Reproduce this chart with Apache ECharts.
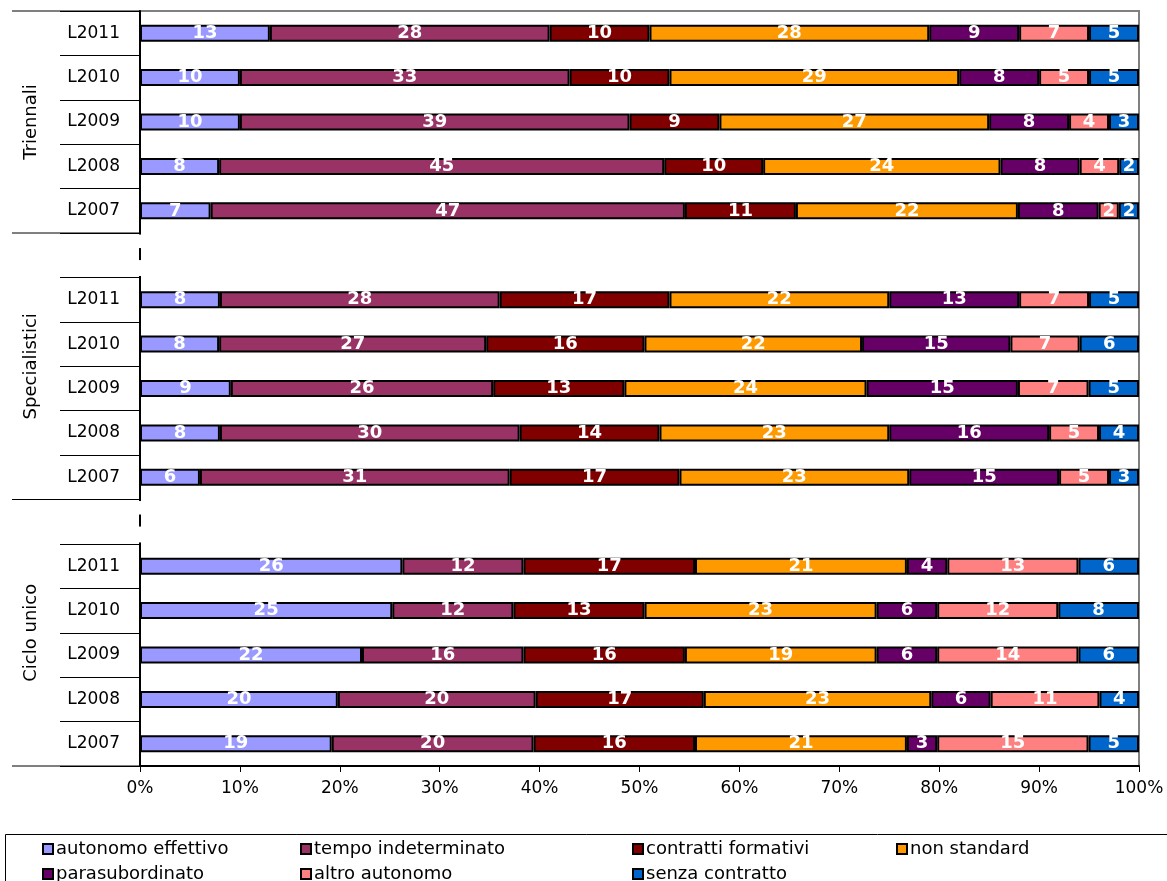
<!DOCTYPE html>
<html>
<head>
<meta charset="utf-8">
<title>Condizione occupazionale per tipo di corso e coorte</title>
<script src="https://cdn.jsdelivr.net/npm/echarts@6/dist/echarts.min.js"></script>
<style>
  html, body { margin: 0; padding: 0; background: #fff; }
  #chart { width: 1167px; height: 881px; }
</style>
</head>
<body>
<div id="chart"></div>
<script>
// Groups of degree courses, each listing its cohorts top to bottom
const groups = ['Triennali', 'Specialistici', 'Ciclo unico'];
const cohorts = ['L2011', 'L2010', 'L2009', 'L2008', 'L2007'];

const seriesNames = ['autonomo effettivo', 'tempo indeterminato', 'contratti formativi',
  'non standard', 'parasubordinato', 'altro autonomo', 'senza contratto'];
const seriesColors = ['#9999FF', '#993366', '#800000', '#FF9900', '#660066', '#FF8080', '#0066CC'];

// Percentages per cohort: Triennali L2011..L2007, Specialistici L2011..L2007, Ciclo unico L2011..L2007
const autonomoEffettivo  = [13, 10, 10, 8, 7,    8, 8, 9, 8, 6,       26, 25, 22, 20, 19];
const tempoIndeterminato = [28, 33, 39, 45, 47,  28, 27, 26, 30, 31,  12, 12, 16, 20, 20];
const contrattiFormativi = [10, 10, 9, 10, 11,   17, 16, 13, 14, 17,  17, 13, 16, 17, 16];
const nonStandard        = [28, 29, 27, 24, 22,  22, 22, 24, 23, 23,  21, 23, 19, 23, 21];
const parasubordinato    = [9, 8, 8, 8, 8,       13, 15, 15, 16, 15,  4, 6, 6, 6, 3];
const altroAutonomo      = [7, 5, 4, 4, 2,       7, 7, 7, 5, 5,       13, 12, 14, 11, 15];
const senzaContratto     = [5, 5, 3, 2, 2,       5, 6, 5, 4, 3,       6, 8, 6, 4, 5];

const xTicks = [0, 10, 20, 30, 40, 50, 60, 70, 80, 90, 100];

const seriesValues = [autonomoEffettivo, tempoIndeterminato, contrattiFormativi,
  nonStandard, parasubordinato, altroAutonomo, senzaContratto];

const FONT = 'DejaVu Sans';

// Build the row list: each group after the first starts with an empty spacer row
const rows = [];          // {label, src} ; src = index into the value arrays, or -1 for spacer
const groupRanges = [];   // [firstRow, lastRow] for every group
groups.forEach((g, gi) => {
  const first = rows.length;
  if (gi > 0) rows.push({ label: '', src: -1 });
  cohorts.forEach((c, ci) => rows.push({ label: c, src: gi * cohorts.length + ci }));
  groupRanges.push([first, rows.length - 1]);
});
const categories = rows.map(r => r.label);

// 100% stacking: each row is scaled to its own total, labels keep the stated value
const rowTotals = rows.map(r => r.src < 0 ? 0 :
  seriesValues.reduce((s, arr) => s + arr[r.src], 0));

const series = seriesNames.map((name, si) => ({
  name,
  type: 'bar',
  stack: 'total',
  barWidth: 17,
  itemStyle: { color: seriesColors[si], borderColor: '#000', borderWidth: 2 },
  label: {
    show: true,
    position: 'inside',
    color: '#fff',
    fontFamily: FONT,
    fontWeight: 'bold',
    fontSize: 18,
    formatter: p => p.data && p.data.raw != null ? String(p.data.raw) : ''
  },
  data: rows.map((r, ri) => r.src < 0 ? '-' : {
    value: seriesValues[si][r.src] / rowTotals[ri] * 100,
    raw: seriesValues[si][r.src]
  })
}));

// Legend: two rows, four columns, one entry per slot
const legendSlots = [
  { name: 'autonomo effettivo',  left: 42,  top: 839 },
  { name: 'tempo indeterminato', left: 300, top: 839 },
  { name: 'contratti formativi', left: 632, top: 839 },
  { name: 'non standard',        left: 896, top: 839 },
  { name: 'parasubordinato',     left: 42,  top: 864 },
  { name: 'altro autonomo',      left: 300, top: 864 },
  { name: 'senza contratto',     left: 632, top: 864 }
];
const legends = legendSlots.map(s => ({
  orient: 'horizontal',
  left: s.left,
  top: s.top,
  padding: 0,
  itemWidth: 10,
  itemHeight: 10,
  icon: 'rect',
  selectedMode: false,
  data: [s.name],
  textStyle: { fontFamily: FONT, fontSize: 18, color: '#000', lineHeight: 20, padding: [0, 0, 0, -2] }
}));

const chart = echarts.init(document.getElementById('chart'), null, { renderer: 'canvas' });

chart.setOption({
  animation: false,
  backgroundColor: '#fff',
  grid: {
    left: 140, right: 28, top: 11, bottom: 115,
    show: true, borderColor: '#808080', borderWidth: 2, backgroundColor: 'transparent'
  },
  legend: legends,
  xAxis: {
    type: 'value',
    min: 0, max: 100, interval: 10,
    axisLine: { show: true, lineStyle: { color: '#000', width: 2 } },
    axisTick: { show: true, length: 6, lineStyle: { color: '#000', width: 1 } },
    splitLine: { show: false },
    axisLabel: {
      formatter: v => xTicks.includes(v) ? v + '%' : '',
      fontFamily: FONT, fontSize: 17, color: '#000', margin: 14
    }
  },
  yAxis: {
    type: 'category',
    inverse: true,
    data: categories,
    axisLine: { show: true, lineStyle: { color: '#000', width: 2 } },
    axisTick: { show: true, length: 80, lineStyle: { color: '#000', width: 1 } },
    axisLabel: { fontFamily: FONT, fontSize: 17, color: '#000', margin: 20 }
  },
  series
});

// Group labels, group separators and the broken axis at the spacer rows
function drawGroups() {
  const yOf = i => chart.convertToPixel({ yAxisIndex: 0 }, i);
  const step = yOf(1) - yOf(0);
  const axisX = chart.convertToPixel({ xAxisIndex: 0 }, 0);
  const elements = [];
  const boundaries = new Set();
  groupRanges.forEach(([a, b], gi) => {
    const top = yOf(a) - step / 2;
    const bottom = yOf(b) + step / 2;
    boundaries.add(Math.round(top * 2) / 2);
    boundaries.add(Math.round(bottom * 2) / 2);
    elements.push({
      type: 'text',
      x: 31, y: (top + bottom) / 2,
      rotation: Math.PI / 2,
      style: {
        text: groups[gi], fill: '#000', font: '18px "' + FONT + '"',
        align: 'center', verticalAlign: 'middle'
      },
      z: 10
    });
  });
  boundaries.forEach(y => {
    elements.push({
      type: 'line',
      shape: { x1: 12, y1: y, x2: axisX, y2: y },
      style: { stroke: '#000', lineWidth: 1 },
      z: 10
    });
  });
  rows.forEach((r, ri) => {
    if (r.src >= 0) return;
    const s0 = yOf(ri) - step / 2;
    const s1 = yOf(ri) + step / 2;
    [[s0 + 1.5, s0 + 15], [s0 + 27, s1 - 1.5]].forEach(([y0, y1]) => {
      elements.push({
        type: 'rect',
        shape: { x: axisX - 2, y: y0, width: 4, height: y1 - y0 },
        style: { fill: '#fff' },
        z: 10
      });
    });
  });
  elements.push({
    type: 'rect',
    shape: { x: 5.5, y: 834.5, width: 1200, height: 100 },
    style: { fill: 'none', stroke: '#000', lineWidth: 1 },
    z: 1
  });
  chart.setOption({ graphic: { elements } });
}
drawGroups();
</script>
</body>
</html>
